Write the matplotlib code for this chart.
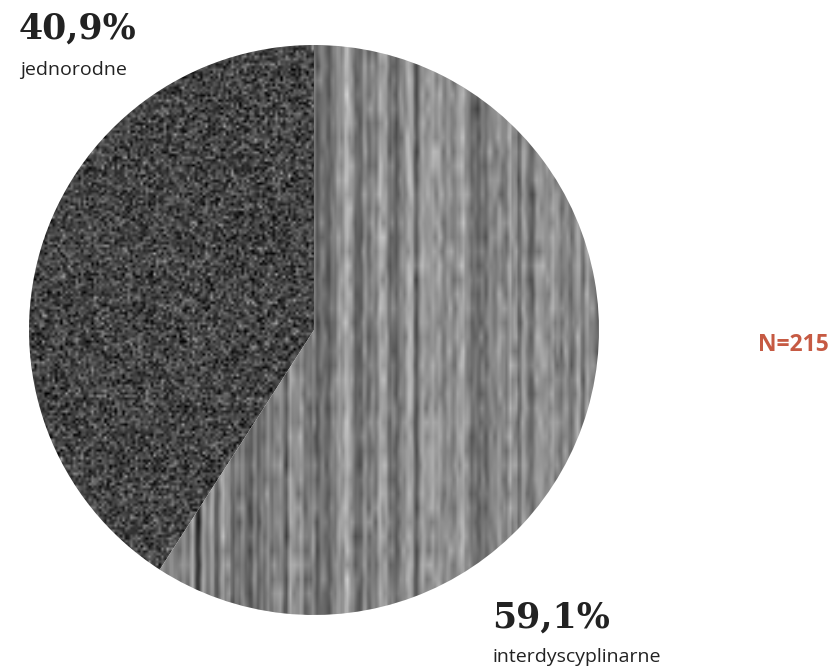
import numpy as np
import matplotlib.pyplot as plt

# shares of projects (percent)
labels = ["jednorodne", "interdyscyplinarne"]
shares = [40.9, 59.1]
pct_text = ["40,9%", "59,1%"]
n_total = 215

W, H = 834, 669
fig = plt.figure(figsize=(W / 100, H / 100), dpi=100)
ax = fig.add_axes([0, 0, 1, 1])

cx, cy, r = 314, H - 330, 285

wedges, _ = ax.pie(shares, center=(cx, cy), radius=r, startangle=90,
                   counterclock=True, frame=True,
                   wedgeprops=dict(facecolor="none", edgecolor="none"))
ax.set_xlim(0, W)
ax.set_ylim(0, H)
ax.set_aspect("auto")
ax.axis("off")

# textures (purely decorative noise, fixed seed)
rng = np.random.default_rng(3)
ext = [cx - r, cx + r, cy - r, cy + r]

speck = rng.normal(0.27, 0.12, (220, 220))
speck = np.clip(speck, 0, 1)
im1 = ax.imshow(speck, cmap="gray", vmin=0, vmax=1, extent=ext,
                interpolation="bilinear", zorder=1)
im1.set_clip_path(wedges[0])

k = np.array([1, 2, 1]) / 4
cols = np.convolve(rng.normal(0.52, 0.15, 280), k, mode="same")
rows = rng.normal(0, 0.07, (40, 280))
rows = np.apply_along_axis(lambda v: np.convolve(v, k, mode="same"), 1, rows)
streak = np.clip(cols[None, :] + rows, 0, 1)
im2 = ax.imshow(streak, cmap="gray", vmin=0, vmax=1, extent=ext,
                interpolation="bilinear", aspect="auto", zorder=1)
im2.set_clip_path(wedges[1])

serif = dict(family="DejaVu Serif", weight="bold", size=25, color="#222222")
sans = dict(family="Open Sans", size=14, color="#222222")

ax.text(19, H - 39, pct_text[0], ha="left", va="baseline", **serif)
ax.text(20, H - 75, labels[0], ha="left", va="baseline", **sans)
ax.text(492, H - 628, pct_text[1], ha="left", va="baseline", **serif)
ax.text(493, H - 662, labels[1], ha="left", va="baseline", **sans)
ax.text(829, H - 345, f"N={n_total}", ha="right", va="center",
        family="Open Sans", weight="bold", size=16.5, color="#c65a43")

fig.savefig("out.png", dpi=100)
